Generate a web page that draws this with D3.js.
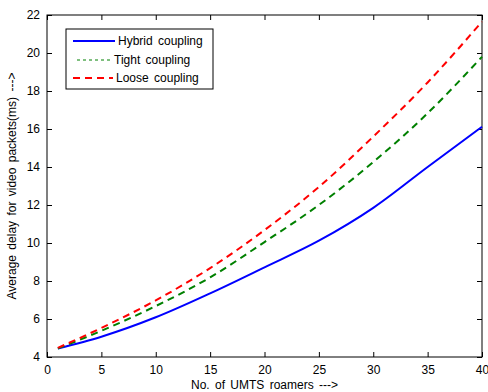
<!DOCTYPE html>
<html><head><meta charset="utf-8">
<script src="https://cdn.jsdelivr.net/npm/d3@7"></script>
<style>
body{margin:0;background:#fff;}
text{font-family:"Liberation Sans",Arial,Helvetica,sans-serif;}
</style></head>
<body><svg id="c" width="488" height="392"></svg>
<script>
const roamers = [1, 5, 10, 15, 20, 25, 30, 35, 40];
const hybridDelay = [4.45, 5.07, 6.09, 7.35, 8.72, 10.12, 11.85, 14.0, 16.12];
const tightDelay  = [4.45, 5.38, 6.68, 8.19, 10.05, 12.0, 14.26, 16.83, 19.8];
const looseDelay  = [4.48, 5.53, 6.98, 8.68, 10.68, 12.95, 15.6, 18.45, 21.65];
const xTicks = [0, 5, 10, 15, 20, 25, 30, 35, 40];
const yTicks = [4, 6, 8, 10, 12, 14, 16, 18, 20, 22];
const seriesNames = ["Hybrid coupling", "Tight coupling", "Loose coupling"];

const svg = d3.select("#c");
const L = 47, R = 482, T = 15, B = 357;
const x = d3.scaleLinear().domain([0, 40]).range([L, R]);
const y = d3.scaleLinear().domain([4, 22]).range([B, T]);

// box
svg.append("rect").attr("x", L).attr("y", T).attr("width", R - L).attr("height", B - T)
  .attr("fill", "none").attr("stroke", "#000").attr("stroke-width", 1);

const tl = 5;
const fs = 12;
// bottom axis
const xb = svg.append("g").attr("transform", `translate(0,${B})`)
  .call(d3.axisBottom(x).tickValues(xTicks).tickSize(-tl).tickPadding(8).tickFormat(d3.format("d")));
// top ticks
const xt = svg.append("g").attr("transform", `translate(0,${T})`)
  .call(d3.axisTop(x).tickValues(xTicks).tickSize(-tl).tickFormat(""));
// left axis
const yl = svg.append("g").attr("transform", `translate(${L},0)`)
  .call(d3.axisLeft(y).tickValues(yTicks).tickSize(-tl).tickPadding(7).tickFormat(d3.format("d")));
// right ticks
const yr = svg.append("g").attr("transform", `translate(${R},0)`)
  .call(d3.axisRight(y).tickValues(yTicks).tickSize(-tl).tickFormat(""));
[xb, xt, yl, yr].forEach(g => {
  g.select(".domain").remove();
  g.selectAll(".tick line").attr("stroke", "#000");
  g.selectAll("text").attr("font-size", fs).attr("fill", "#000")
    .style("font-family", '"Liberation Sans",Arial,sans-serif');
});

const line = d3.line().x((d, i) => x(roamers[i])).y(d => y(d)).curve(d3.curveMonotoneX);

const plotG = svg.append("g");
plotG.append("path").datum(hybridDelay).attr("d", line)
  .attr("fill", "none").attr("stroke", "#0000ff").attr("stroke-width", 2);
plotG.append("path").datum(tightDelay).attr("d", line)
  .attr("fill", "none").attr("stroke", "#008000").attr("stroke-width", 2)
  .attr("stroke-dasharray", "7,5");
plotG.append("path").datum(looseDelay).attr("d", line)
  .attr("fill", "none").attr("stroke", "#ff0000").attr("stroke-width", 2)
  .attr("stroke-dasharray", "7,5");

// legend
const lg = svg.append("g");
lg.append("rect").attr("x", 66).attr("y", 29).attr("width", 147).attr("height", 60)
  .attr("fill", "#fff").attr("stroke", "#000").attr("stroke-width", 1);
const legY = [41, 60, 78];
const legStyles = [
  {c: "#0000ff", w: 2, d: null, x1: 73, x2: 115, tx: 118},
  {c: "#008000", w: 1, d: "3,3", x1: 77, x2: 113, tx: 114},
  {c: "#ff0000", w: 2, d: "7,5", x1: 73, x2: 113, tx: 116}
];
seriesNames.forEach((n, i) => {
  const s = legStyles[i];
  lg.append("line").attr("x1", s.x1).attr("x2", s.x2).attr("y1", legY[i]).attr("y2", legY[i])
    .attr("stroke", s.c).attr("stroke-width", s.w).attr("stroke-dasharray", s.d);
  lg.append("text").attr("x", s.tx).attr("y", legY[i] + 4).attr("font-size", fs)
    .style("word-spacing", "2px").text(n);
});

// axis labels
svg.append("text").attr("x", (L + R) / 2).attr("y", 389).attr("text-anchor", "middle")
  .attr("font-size", fs).style("word-spacing", "2px").text("No. of UMTS  roamers  --->");
svg.append("text").attr("transform", `translate(16,${(T + B) / 2}) rotate(-90)`)
  .attr("text-anchor", "middle").attr("font-size", fs).style("word-spacing", "2px")
  .text("Average delay for video packets(ms)  --->");
</script></body></html>
